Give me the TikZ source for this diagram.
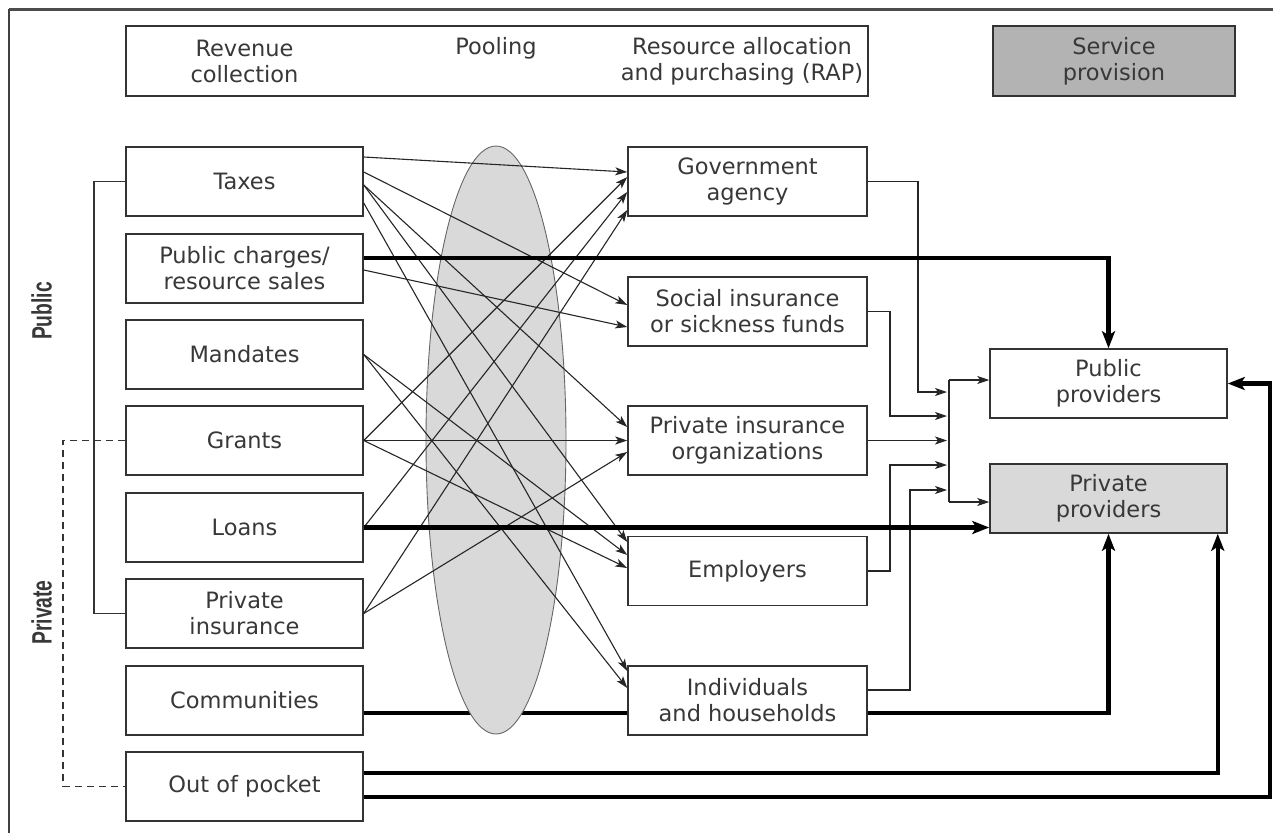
\documentclass[tikz,border=0pt]{standalone}
\usepackage{fontspec}
\usepackage{graphicx}
\setmainfont{DejaVu Sans}
\newfontfamily\sidefont{Liberation Sans}
\usetikzlibrary{arrows.meta,calc,shapes.geometric}
\definecolor{ink}{HTML}{333333}
\definecolor{txt}{HTML}{383838}
\definecolor{poolfill}{HTML}{D9D9D9}
\definecolor{darkfill}{HTML}{B3B3B3}
\definecolor{lightfill}{HTML}{D9D9D9}
\newcommand{\boxfont}{\fontsize{22.5}{26}\selectfont}
\newcommand{\sidelabel}[1]{\scalebox{0.69}[1]{\sidefont\bfseries\fontsize{28}{28}\selectfont #1}}

\tikzset{
  box/.style={draw=ink, line width=1.5pt, minimum width=237pt, minimum height=69pt,
              align=center, text=txt, inner sep=0pt, font=\boxfont},
  midbox/.style={box, minimum width=239pt},
  headtext/.style={align=center, text=txt, inner sep=0pt, font=\boxfont},
  thinarrow/.style={line width=1.1pt, draw=black!85,
                    -{Stealth[length=12pt,width=8pt,inset=3pt]}},
  thickline/.style={line width=4.5pt, draw=black},
  thickarrow/.style={thickline, -{Stealth[length=17pt,width=13pt,inset=4pt]}},
  bracket/.style={line width=1.3pt, draw=ink},
  sidelab/.style={rotate=90, text=txt, inner sep=0pt}
}

\begin{document}
\begin{tikzpicture}[x=1pt,y=-1pt]
\useasboundingbox (0,0) rectangle (1273,833);

% frame
\draw[line width=3pt, draw=black!70] (9,9) -- (1273,9);
\draw[line width=2pt, draw=black!75] (9,9) -- (9,833);

% header row
\node[box, minimum width=742pt, minimum height=70pt] (head) at (497,61) {};
\node[headtext] (rev) at (244.5,61) {Revenue\\collection};
\node[headtext] (pool) at (496,48) {Pooling};
\node[headtext] (rap) at (742,61) {Resource allocation\\and purchasing (RAP)};
\node[box, fill=darkfill, minimum width=242pt, minimum height=70pt] (serv) at (1114,61) {Service\\provision};

% side labels
\node[sidelab] (publab) at (41.5,311) {\sidelabel{Public}};
\node[sidelab] (privlab) at (41.5,612.5) {\sidelabel{Private}};

% revenue sources
\node[box] (taxes)  at (244.5,181.5) {Taxes};
\node[box] (pc)     at (244.5,268.5) {Public charges/\\resource sales};
\node[box] (mand)   at (244.5,354.5) {Mandates};
\node[box] (grants) at (244.5,440.5) {Grants};
\node[box] (loans)  at (244.5,527.5) {Loans};
\node[box] (pins)   at (244.5,613.5) {Private\\insurance};
\node[box] (comm)   at (244.5,700.5) {Communities};
\node[box] (oop)    at (244.5,786.5) {Out of pocket};

% purchasers
\node[midbox] (gov) at (747.5,181.5) {Government\\agency};
\node[midbox] (soc) at (747.5,311.5) {Social insurance\\or sickness funds};
\node[midbox] (pio) at (747.5,440.5) {Private insurance\\organizations};
\node[midbox] (emp) at (747.5,571)   {Employers};
\node[midbox] (ind) at (747.5,700.5) {Individuals\\and households};

% providers
\node[box] (pub)  at (1108.5,383.5) {Public\\providers};
\node[box, fill=lightfill] (priv) at (1108.5,498.5) {Private\\providers};

% public / private brackets
\coordinate (bx) at (94,0);
\coordinate (dx) at (63,0);
\draw[bracket] (taxes.west) -- (taxes.west -| bx) -- (pins.west -| bx) -- (pins.west);
\draw[bracket, dash pattern=on 7pt off 5pt] (grants.west) -- (grants.west -| dx)
      -- (oop.west -| dx) -- (oop.west);

% communities to households (passes behind the pool)
\coordinate (cm) at ($(comm.east)+(0,12.5)$);
\draw[thickline] (cm) -- (cm -| ind.west);

% pooling ellipse
\node[ellipse, draw=black!60, line width=0.9pt, fill=poolfill, inner sep=0pt,
      minimum width=140pt, minimum height=588pt] (pooling) at (496,440) {};

% source ports
\coordinate (t1) at ($(taxes.east)+(0,-24.5)$);
\coordinate (t2) at ($(taxes.east)+(0,-9.5)$);
\coordinate (t3) at ($(taxes.east)+(0,3.5)$);
\coordinate (t4) at ($(taxes.east)+(0,21.5)$);
\coordinate (p1) at ($(pc.east)+(0,-10.5)$);
\coordinate (p2) at ($(pc.east)+(0,1.5)$);

% purchaser ports
\coordinate (g1) at ($(gov.west)+(0,-9.5)$);
\coordinate (g2) at ($(gov.west)+(0,-4.5)$);
\coordinate (g3) at ($(gov.west)+(0,10.5)$);
\coordinate (g4) at ($(gov.west)+(0,28.5)$);
\coordinate (s1) at ($(soc.west)+(0,-6.5)$);
\coordinate (s2) at ($(soc.west)+(0,15.5)$);
\coordinate (o1) at ($(pio.west)+(0,-13.5)$);
\coordinate (o2) at (pio.west);
\coordinate (o3) at ($(pio.west)+(0,11.5)$);
\coordinate (e1) at ($(emp.west)+(0,-29)$);
\coordinate (e2) at ($(emp.west)+(0,-16)$);
\coordinate (e3) at ($(emp.west)+(0,-3)$);
\coordinate (i1) at ($(ind.west)+(0,-29.5)$);
\coordinate (i2) at ($(ind.west)+(0,-12.5)$);

% flows from sources to purchasers
\draw[thinarrow] (t1) -- (g1);
\draw[thinarrow] (t2) -- (s1);
\draw[thinarrow] (t3) -- (o1);
\draw[thinarrow] (t3) -- (e1);
\draw[thinarrow] (t4) -- (i1);
\draw[thinarrow] (p2) -- (s2);
\draw[thinarrow] (mand.east) -- (e2);
\draw[thinarrow] (mand.east) -- (i2);
\draw[thinarrow] (grants.east) -- (g2);
\draw[thinarrow] (grants.east) -- (o2);
\draw[thinarrow] (grants.east) -- (e3);
\draw[thinarrow] (loans.east) -- (g3);
\draw[thinarrow] (pins.east) -- (g4);
\draw[thinarrow] (pins.east) -- (o3);

% purchasers to the provider bus
\coordinate (busN) at (949,380);
\coordinate (busS) at (949,502);
\coordinate (c918) at (918,0);
\coordinate (c890) at (890,0);
\coordinate (c910) at (910,0);
\coordinate (b1) at (947,392);
\coordinate (b2) at (947,416);
\coordinate (b4) at (947,465);
\coordinate (b5) at (947,490);
\coordinate (indout) at ($(ind.east)+(0,-10.5)$);
\draw[thinarrow] (gov.east) -| (c918 |- b1) -- (b1);
\draw[thinarrow] (soc.east) -| (c890 |- b2) -- (b2);
\draw[thinarrow] (pio.east) -- (pio.east -| b1);
\draw[thinarrow] (emp.east) -| (c890 |- b4) -- (b4);
\draw[thinarrow] (indout) -| (c910 |- b5) -- (b5);
\draw[line width=1.1pt, draw=black!85] (busN) -- (busS);
\draw[thinarrow] (busN) -- (busN -| pub.west);
\draw[thinarrow] (busS) -- (busS -| priv.west);

% direct payments to providers
\coordinate (hh) at ($(ind.east)+(0,12.5)$);
\coordinate (q1) at ($(oop.east)+(0,-13.5)$);
\coordinate (q2) at ($(oop.east)+(0,10.5)$);
\coordinate (pvr) at ($(priv.south east)+(-10,0)$);
\coordinate (xr) at (1270,0);
\draw[thickarrow] (p1) -| (pub.north);
\draw[thickarrow] (loans.east) -- (loans.east -| priv.west);
\draw[thickarrow] (hh) -| (priv.south);
\draw[thickarrow] (q1) -| (pvr);
\draw[thickarrow] (q2) -| (xr |- pub.east) -- (pub.east);
\end{tikzpicture}
\end{document}
